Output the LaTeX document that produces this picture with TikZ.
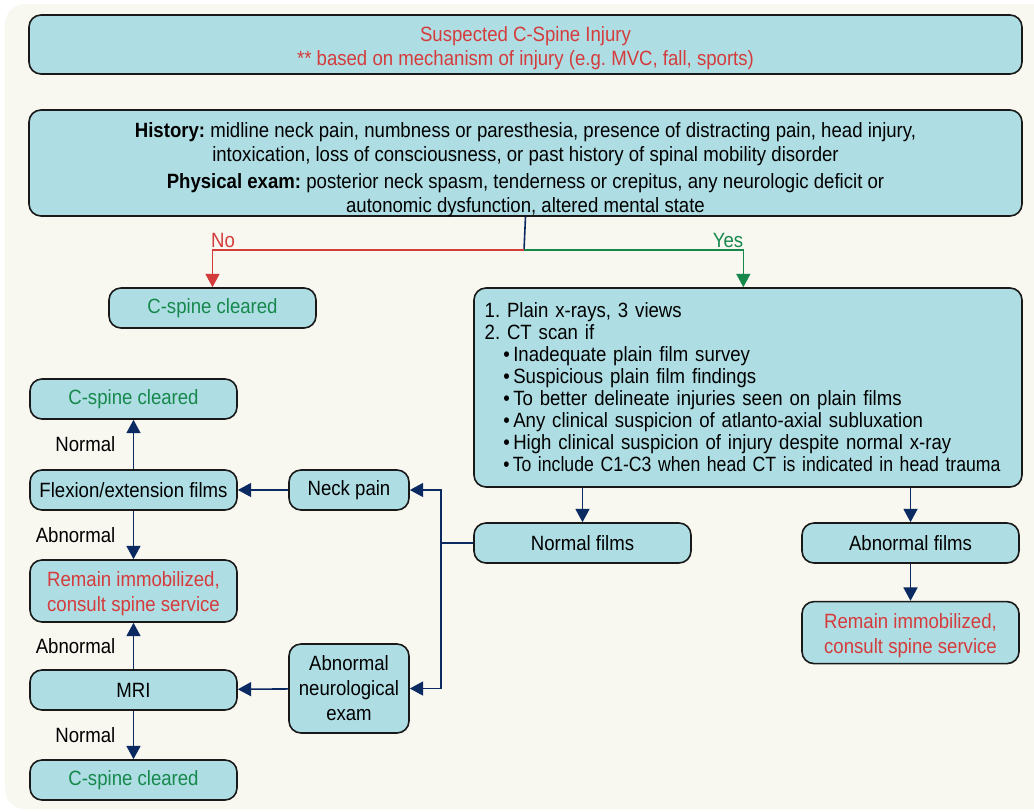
\documentclass[tikz,border=0pt]{standalone}
\usepackage{fontspec}
\setmainfont{Liberation Sans}[FakeStretch=0.9]
\usepackage{tikz}
\usetikzlibrary{arrows.meta,positioning}
\definecolor{boxfill}{RGB}{174,222,228}
\definecolor{bgcream}{RGB}{248,247,240}
\definecolor{navy}{RGB}{12,42,98}
\definecolor{flowred}{RGB}{212,60,60}
\definecolor{flowgreen}{RGB}{22,136,76}
% lower a block of centred lines without changing the node size
\newcommand{\lowered}[2]{\raisebox{-#1}[\height][\depth]{\begin{tabular}{@{}c@{}}#2\end{tabular}}}

\begin{document}
\begin{tikzpicture}[x=0.75pt, y=-0.75pt,
          font=\fontsize{15.5}{18.75}\selectfont\frenchspacing,
          box/.style={draw=black!90, line width=1.2pt, rounded corners=9pt,
                      fill=boxfill, align=center, inner sep=2pt,
                      minimum height=30pt},
          col/.style={box, minimum width=155.25pt},
          films/.style={box, minimum width=162.75pt},
          small/.style={box, minimum width=90pt},
          arr/.style={-{Triangle[length=10pt,width=10.5pt]}, line width=1.2pt, navy},
          redarr/.style={-{Triangle[length=10pt,width=10.5pt]}, line width=1.2pt, flowred},
          greenarr/.style={-{Triangle[length=10pt,width=10.5pt]}, line width=1.2pt, flowgreen},
          lbl/.style={midway, left=13pt, inner sep=0pt, text=black}
        ]
          \useasboundingbox (0,0) rectangle (1034,811);
          \fill[bgcream, rounded corners=15pt] (5,4) rectangle (1070,809);

          % top of the chart
          \node[box, minimum width=744.75pt, minimum height=44.25pt, text=flowred,
                font=\fontsize{15.5}{18}\selectfont\frenchspacing] (susp) at (525.5,44.5)
            {\lowered{3pt}{Suspected C-Spine Injury\\{}** based on mechanism of injury (e.g. MVC, fall, sports)}};
          \node[box, minimum width=744.75pt, minimum height=79.5pt, inner ysep=0pt,
                font=\fontsize{15.5}{18}\selectfont\frenchspacing] (hist) at (525.5,163)
            {\lowered{5.5pt}{\textbf{History:} midline neck pain, numbness or paresthesia, presence of distracting pain, head injury,\\
             intoxication, loss of consciousness, or past history of spinal mobility disorder\\[2.5pt]
             \textbf{Physical exam:} posterior neck spasm, tenderness or crepitus, any neurologic deficit or\\
             autonomic dysfunction, altered mental state}};
          \node[box, minimum width=155.25pt, text=flowgreen] (clear1) at (212.5,308) {C-spine cleared};
          \node[box, minimum width=411pt, minimum height=149.25pt, align=left,
                inner xsep=8pt, text width=395pt,
                font=\fontsize{15.5}{16.5}\selectfont\frenchspacing] (ct) at (748,387.5)
            {1. Plain x-rays, 3 views\\
             2. CT scan if\\
             \hspace*{14pt}\textbullet\,Inadequate plain film survey\\
             \hspace*{14pt}\textbullet\,Suspicious plain film findings\\
             \hspace*{14pt}\textbullet\,To better delineate injuries seen on plain films\\
             \hspace*{14pt}\textbullet\,Any clinical suspicion of atlanto-axial subluxation\\
             \hspace*{14pt}\textbullet\,High clinical suspicion of injury despite normal x-ray\\
             \hspace*{14pt}\scalebox{0.95}[1]{\textbullet\,To include C1-C3 when head CT is indicated in head trauma}};
          \coordinate (split) at (524,250);
          \draw[navy, line width=1.2pt] (hist.south) -- (split);
          \draw[redarr] (split) -| (clear1.north);
          \draw[greenarr] (split) -| ([xshift=-3.5pt]ct.north);
          \node[text=flowred, inner sep=0pt] (no) at (223,240) {No};
          \node[text=flowgreen, inner sep=0pt] (yes) at (728,240) {Yes};

          % right branch
          \node[films] (normf) at (582.5,543) {Normal films};
          \node[films] (abnf) at (910.5,543) {Abnormal films};
          \node[films, minimum height=46.5pt, text=flowred, below=27.75pt of abnf] (remR)
            {\lowered{2.4pt}{Remain immobilized,\\consult spine service}};
          \draw[arr] (ct.south -| normf.north) -- (normf.north);
          \draw[arr] (ct.south -| abnf.north) -- (abnf.north);
          \draw[arr] (abnf) -- (remR);

          % normal films branch
          \node[small] (neck) at (349,490) {Neck pain};
          \node[small, minimum height=66.75pt] (neuro) at (349,688.5) {Abnormal\\neurological\\exam};
          \coordinate (bus) at (441,543);
          \draw[navy, line width=1.2pt] (normf.west) -- (bus);
          \draw[arr] (bus) |- (neck.east);
          \draw[arr] (bus) |- (neuro.east);

          % left column
          \node[col, text=flowgreen] (clear2) at (133.5,399) {C-spine cleared};
          \node[col] (flex) at (133.5,490) {Flexion/extension films};
          \node[col, minimum height=46.5pt, text=flowred] (remL) at (133.5,591)
            {\lowered{2.4pt}{Remain immobilized,\\consult spine service}};
          \node[col] (mri) at (133.5,690) {MRI};
          \node[col, text=flowgreen] (clear3) at (133.5,780) {C-spine cleared};
          \draw[arr] (neck) -- (flex);
          \draw[arr] (neuro) -- (mri);
          \draw[arr] (flex) -- node[lbl] {Normal} (clear2);
          \draw[arr] (flex) -- node[lbl] {Abnormal} (remL);
          \draw[arr] (mri) -- node[lbl] {Abnormal} (remL);
          \draw[arr] (mri) -- node[lbl] {Normal} (clear3);
        \end{tikzpicture}
\end{document}
